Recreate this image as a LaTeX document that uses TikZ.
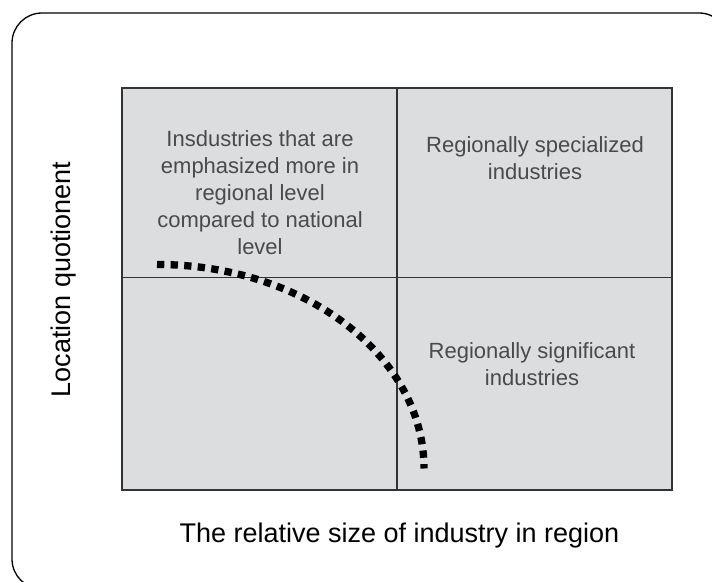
\documentclass[tikz,border=0pt]{standalone}
\usepackage{fontspec}
\setmainfont{Liberation Sans}
\definecolor{quadfill}{HTML}{DCDDDF}
\definecolor{quadline}{HTML}{333333}
\definecolor{quadtext}{HTML}{4A4A4A}
\begin{document}
\begin{tikzpicture}[x=1pt,y=-1pt,
  quadlabel/.style={inner sep=0pt,align=center,text=quadtext,
    font=\fontsize{22}{27}\selectfont},
  axislabel/.style={inner sep=0pt,text=black,
    font=\fontsize{27}{32}\selectfont},
  curveline/.style={line width=7.3pt,dash pattern=on 7.3pt off 6.3pt,line cap=butt}]
\useasboundingbox (0,0) rectangle (712,581);
\clip (0,0) rectangle (712,581);
% outer frame
\draw[line width=1.3pt,rounded corners=30pt] (12,13) rectangle (729,589);
% quadrant area
\coordinate (tl) at (122,88);
\coordinate (br) at (672,490);
\coordinate (vt) at (397,88);
\coordinate (vb) at (397,490);
\coordinate (hl) at (122,277.5);
\coordinate (hr) at (672,277.5);
\fill[quadfill] (tl) rectangle (br);
\draw[quadline,line width=1.3pt] (vt) -- (vb);
\draw[quadline,line width=1.3pt] (hl) -- (hr);
\draw[quadline,line width=2pt] (tl) rectangle (br);
% curve
\coordinate (cs) at (157,264.5);
\draw[curveline] (cs) arc[start angle=-90,end angle=0,x radius=267,y radius=204];
% labels
\node[quadlabel] (q1) at (260,192.5) {Insdustries that are\\emphasized more in\\regional level\\compared to national\\level};
\node[quadlabel] (q2) at (535,158.5) {Regionally specialized\\industries};
\node[quadlabel] (q3) at (532,364) {Regionally significant\\industries};
\node[axislabel,anchor=base,rotate=90] (ylab) at (70,279.5) {Location quotionent};
\node[axislabel,anchor=base] (xlab) at (399.5,542.7) {The relative size of industry in region};
\end{tikzpicture}
\end{document}
